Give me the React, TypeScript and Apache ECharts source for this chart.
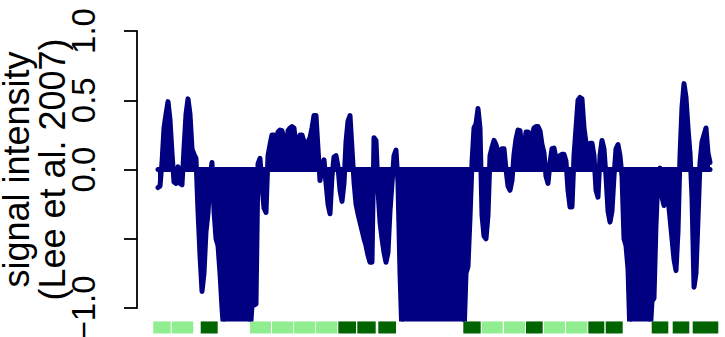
import React, { useEffect, useRef } from "react";
import * as echarts from "echarts";

// signal intensity per probe (Lee et al. 2007)
const signalValues: number[] = [
  -0.13, -0.12, 0.05, 0.30, 0.40, 0.49, 0.36, 0.12, -0.09, -0.10,
  0.02, -0.10, -0.11, 0.15, 0.40, 0.51, 0.40, 0.15, 0.11, 0.08,
  -0.30, -0.62, -0.88, -0.75, -0.45, -0.32, -0.05, 0.05, -0.30, -0.50,
  -0.55, -0.75, -1.00, -1.2, -1.2, -1.2, -1.2, -1.2, -1.2, -1.2,
  -1.2, -1.2, -1.2, -1.2, -1.2, -1.2, -1.2, -0.98, -0.98, -0.97,
  0.04, 0.08, -0.12, -0.28, -0.31, 0.10, 0.18, 0.25, 0.25, 0.14,
  0.27, 0.285, 0.28, 0.22, 0.09, 0.28, 0.30, 0.31, 0.30, 0.16,
  0.20, 0.25, 0.25, 0.20, 0.15, 0.20, 0.23, 0.30, 0.39, 0.39,
  0.15, -0.08, 0.02, 0.07, -0.10, -0.25, -0.32, -0.05, 0.09, 0.10,
  0.02, -0.15, -0.23, -0.10, 0.20, 0.35, 0.39, 0.15, -0.09, -0.25,
  -0.32, -0.38, -0.44, -0.50, -0.55, -0.62, -0.67, -0.67, 0.23, 0.21,
  -0.15, -0.38, -0.50, -0.60, -0.67, -0.60, -0.30, -0.10, 0.10, 0.14,
  -0.10, -0.75, -1.2, -1.2, -1.2, -1.2, -1.2, -1.2, -1.2, -1.2,
  -1.2, -1.2, -1.2, -1.2, -1.2, -1.2, -1.2, -1.2, -1.2, -1.2,
  -1.2, -1.2, -1.2, -1.2, -1.2, -1.2, -1.2, -1.2, -1.2, -1.2,
  -1.2, -1.2, -1.2, -1.2, -0.75, -0.70, -0.35, 0.05, 0.30, 0.33,
  0.44, 0.30, -0.33, -0.48, -0.50, -0.33, 0.10, 0.16, 0.21, 0.18,
  0.13, 0.13, 0.15, 0.15, 0.00, -0.12, -0.15, -0.08, 0.11, 0.22,
  0.285, 0.28, 0.14, 0.15, 0.27, 0.27, 0.13, 0.25, 0.30, 0.31,
  0.31, 0.28, 0.18, 0.12, -0.05, -0.10, 0.05, 0.15, 0.155, 0.08,
  0.04, 0.10, 0.11, 0.11, 0.06, -0.15, -0.27, -0.27, 0.10, 0.30,
  0.50, 0.52, 0.51, 0.30, 0.19, 0.18, 0.19, 0.19, 0.10, -0.15,
  -0.20, 0.10, 0.21, 0.15, -0.05, -0.30, -0.38, -0.30, -0.05, 0.15,
  0.18, 0.10, -0.05, -0.50, -0.55, -0.72, -1.2, -1.2, -1.2, -1.2,
  -1.2, -1.2, -1.2, -1.2, -1.2, -1.2, -1.2, -0.95, -0.93, -0.40,
  -0.05, 0.01, -0.20, -0.26, -0.12, -0.20, -0.35, -0.50, -0.65, -0.73,
  -0.45, 0.10, 0.45, 0.62, 0.52, 0.30, 0.12, -0.20, -0.85, -0.75,
  -0.36, 0.05, 0.20, 0.25, 0.30, 0.12, 0.05,
];

// annotation segments under the track (probe-index units)
const segmentStart: number[] = [
  -2.35, 6.85, 21.35, 46, 57, 68, 78.85, 90.15, 99.65, 110.15,
  152.65, 161.85, 173, 184, 193, 204, 215.15, 223.85, 246.85, 257.35, 267.35,
];
const segmentEnd: number[] = [
  6.35, 17.65, 29.85, 56.5, 67.65, 78.5, 89.65, 99, 108.85, 119,
  161.35, 172.35, 183.5, 192.35, 203.5, 214.65, 223.15, 232.35, 255.15, 265.65, 280.15,
];
const segmentKind: string[] = [
  "light", "light", "dark", "light", "light", "light", "light", "dark", "dark", "dark",
  "dark", "light", "light", "dark", "light", "light", "dark", "dark", "dark", "dark", "dark",
];

const yTickValues: number[] = [-1, -0.5, 0, 0.5, 1];
const yLabelValues: number[] = [-1, 0, 0.5, 1];

const NAVY = "#000080";
const LIGHT = "#90EE90";
const DARK = "#006400";
const FONT = "Liberation Sans, Arial, Helvetica, sans-serif";

export default function App() {
  const ref = useRef<HTMLDivElement>(null);

  useEffect(() => {
    if (!ref.current) return;
    const chart = echarts.init(ref.current, null, { renderer: "svg" });
    const probeData = signalValues.map((v, i) => [i, v]);
    const baseline = [[0, 0], [signalValues.length - 1, 0]];
    const segData = segmentStart.map((s, i) => [s, segmentEnd[i], segmentKind[i] === "dark" ? 1 : 0]);

    chart.setOption({
      animation: false,
      backgroundColor: "#ffffff",
      grid: [
        { left: 153, right: 7, top: 19.92, bottom: 17.92, containLabel: false, outerBoundsMode: "none" },
        { left: 137, right: 7, top: 31, bottom: 29, containLabel: false, outerBoundsMode: "none" },
      ],
      xAxis: [
        { gridIndex: 0, type: "value", min: -2.5, max: 280, show: false },
        { gridIndex: 1, type: "value", min: 0, max: 1, show: false },
      ],
      yAxis: [
        { gridIndex: 0, type: "value", min: -1.08, max: 1.08, show: false },
        {
          gridIndex: 1,
          type: "value",
          min: -1,
          max: 1,
          interval: 0.5,
          axisLine: { show: true, lineStyle: { color: "#000", width: 1.8 } },
          axisTick: {
            show: true,
            length: 13,
            customValues: yTickValues,
            lineStyle: { color: "#000", width: 1.8 },
          },
          axisLabel: {
            show: true,
            rotate: 90,
            margin: 37,
            customValues: yLabelValues,
            fontSize: 33,
            fontFamily: FONT,
            color: "#000",
            formatter: (v: number) => (v < 0 ? "\u2212" : "") + Math.abs(v).toFixed(1),
          },
          splitLine: { show: false },
          name: "signal intensity\n(Lee et al. 2007)",
          nameLocation: "middle",
          nameRotate: 90,
          nameGap: 67,
          nameMoveOverlap: false,
          nameTextStyle: {
            fontSize: 36,
            fontFamily: FONT,
            color: "#000",
            lineHeight: 36,
          },
        },
      ],
      series: [
        {
          type: "line",
          xAxisIndex: 0,
          yAxisIndex: 0,
          clip: true,
          data: probeData,
          symbol: "none",
          lineStyle: { color: NAVY, width: 5, cap: "round", join: "round" },
          areaStyle: { color: NAVY, opacity: 1, origin: 0 },
        },
        {
          type: "line",
          xAxisIndex: 0,
          yAxisIndex: 0,
          clip: true,
          data: baseline,
          symbol: "none",
          lineStyle: { color: NAVY, width: 5, cap: "round" },
        },
        {
          type: "custom",
          xAxisIndex: 0,
          yAxisIndex: 0,
          clip: false,
          data: segData,
          renderItem: (_params: any, api: any) => {
            const a = api.coord([api.value(0), -1.097]);
            const b = api.coord([api.value(1), -1.184]);
            return {
              type: "rect",
              shape: { x: a[0], y: a[1], width: b[0] - a[0], height: b[1] - a[1] },
              style: { fill: api.value(2) === 1 ? DARK : LIGHT },
            };
          },
        },
      ],
    });
    return () => chart.dispose();
  }, []);

  return <div ref={ref} style={{ width: 725, height: 337, position: "fixed", left: 0, top: 0 }} />;
}
